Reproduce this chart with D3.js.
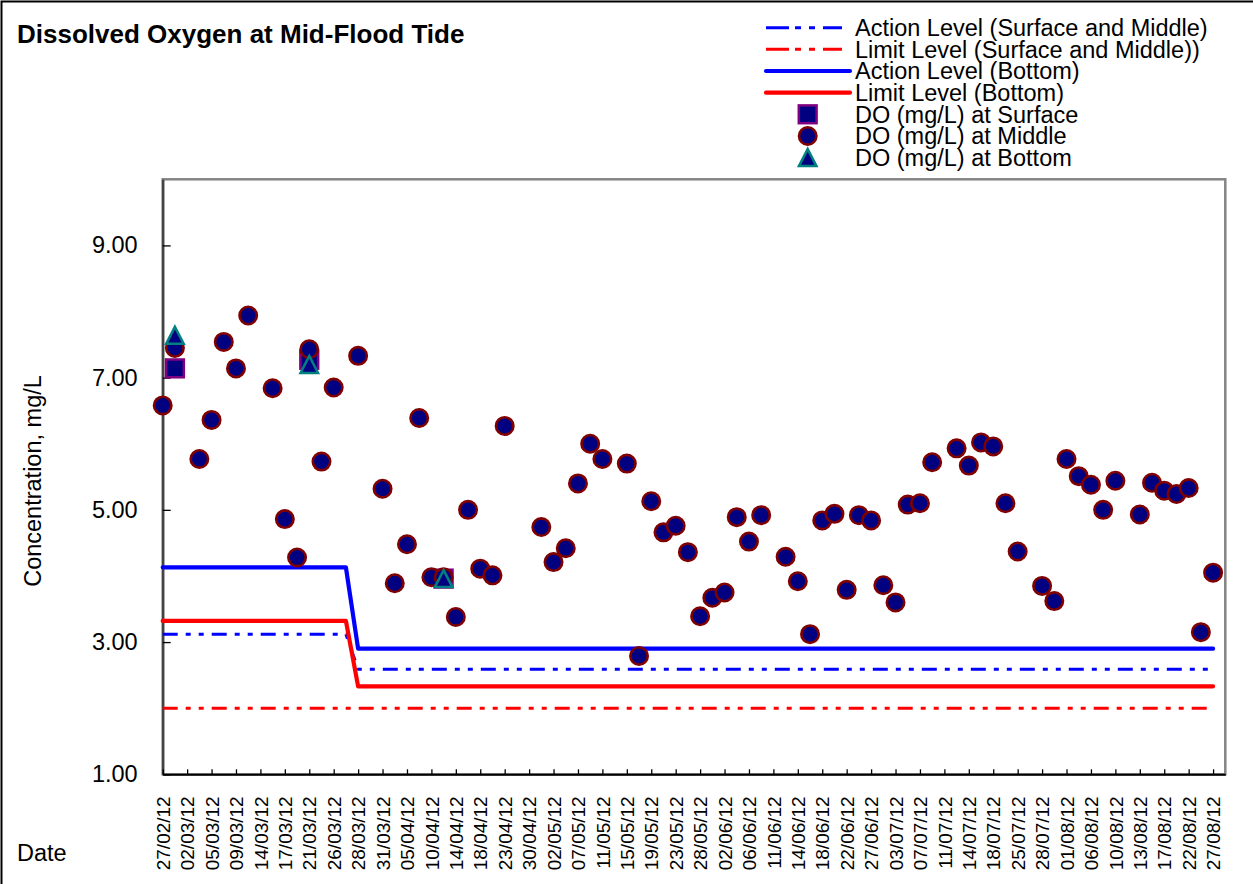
<!DOCTYPE html>
<html>
<head>
<meta charset="utf-8">
<script src="https://cdn.jsdelivr.net/npm/d3@7/dist/d3.min.js"></script>
<style>
  html, body { margin: 0; padding: 0; background: #fff; }
  svg { display: block; font-family: Arial, "Liberation Sans", sans-serif; }
</style>
</head>
<body>
<svg id="chart" width="1253" height="884"></svg>
<script>
// ---------- DATA ----------
const categories = [
  "27/02/12","29/02/12","02/03/12","03/03/12","05/03/12","07/03/12","09/03/12","12/03/12",
  "14/03/12","16/03/12","17/03/12","19/03/12","21/03/12","23/03/12","26/03/12","27/03/12",
  "28/03/12","30/03/12","31/03/12","03/04/12","05/04/12","07/04/12","10/04/12","12/04/12",
  "14/04/12","16/04/12","18/04/12","20/04/12","23/04/12","26/04/12","30/04/12","01/05/12",
  "02/05/12","04/05/12","07/05/12","09/05/12","11/05/12","14/05/12","15/05/12","17/05/12",
  "19/05/12","21/05/12","23/05/12","25/05/12","28/05/12","31/05/12","02/06/12","04/06/12",
  "06/06/12","08/06/12","11/06/12","13/06/12","14/06/12","16/06/12","18/06/12","20/06/12",
  "22/06/12","25/06/12","27/06/12","29/06/12","03/07/12","05/07/12","07/07/12","09/07/12",
  "11/07/12","13/07/12","14/07/12","16/07/12","18/07/12","20/07/12","25/07/12","27/07/12",
  "28/07/12","30/07/12","01/08/12","03/08/12","06/08/12","08/08/12","10/08/12","11/08/12",
  "13/08/12","15/08/12","17/08/12","20/08/12","22/08/12","24/08/12","27/08/12","29/08/12"
];

// tick labels shown on the x axis (every second category)
const xTickLabels = [
  "27/02/12","02/03/12","05/03/12","09/03/12","14/03/12","17/03/12","21/03/12","26/03/12",
  "28/03/12","31/03/12","05/04/12","10/04/12","14/04/12","18/04/12","23/04/12","30/04/12",
  "02/05/12","07/05/12","11/05/12","15/05/12","19/05/12","23/05/12","28/05/12","02/06/12",
  "06/06/12","11/06/12","14/06/12","18/06/12","22/06/12","27/06/12","03/07/12","07/07/12",
  "11/07/12","14/07/12","18/07/12","25/07/12","28/07/12","01/08/12","06/08/12","10/08/12",
  "13/08/12","17/08/12","22/08/12","27/08/12"
];

const yTickValues = [1, 3, 5, 7, 9];

// DO at middle depth (null = no reading)
const doMiddle = [
  6.58, 7.45, null, 5.77, 6.36, 7.54, 7.14, 7.94,
  null, 6.84, 4.86, 4.28, 7.43, 5.73, 6.85, null,
  7.33, null, 5.32, 3.89, 4.48, 6.39, 3.98, 3.98,
  3.38, 5.00, 4.11, 4.01, 6.27, null, null, 4.74,
  4.21, 4.42, 5.40, 6.00, 5.77, null, 5.70, 2.79,
  5.13, 4.66, 4.76, 4.36, 3.39, 3.67, 3.75, 4.89,
  4.52, 4.92, null, 4.29, 3.92, 3.12, 4.84, 4.94,
  3.79, 4.92, 4.84, 3.86, 3.60, 5.08, 5.10, 5.72,
  null, 5.93, 5.67, 6.02, 5.96, 5.10, 4.37, null,
  3.85, 3.62, 5.77, 5.51, 5.38, 5.00, 5.44, null,
  4.93, 5.41, 5.29, 5.24, 5.33, 3.15, 4.05, null
];

// DO at surface and bottom (only readings that differ visibly)
const surfaceDates = ["29/02/12", "21/03/12", "12/04/12"];
const doSurface    = [7.14, 7.27, 3.96];
const bottomDates  = ["29/02/12", "21/03/12", "12/04/12"];
const doBottom     = [7.64, 7.20, 3.96];

// Action / Limit levels: value before and from the change date
const levelChangeDate = "28/03/12";
const levelEndDate = "27/08/12";
const actionSurfaceMiddle = [3.12, 2.59];
const limitSurfaceMiddle  = [2.00, 2.00];
const actionBottom        = [4.13, 2.90];
const limitBottom         = [3.32, 2.33];

const legendLabels = [
  "Action Level (Surface and Middle)",
  "Limit Level (Surface and Middle))",
  "Action Level (Bottom)",
  "Limit Level (Bottom)",
  "DO (mg/L) at Surface",
  "DO (mg/L) at Middle",
  "DO (mg/L) at Bottom"
];

// ---------- CHART ----------
const svg = d3.select("#chart");
const W = 1253, H = 884;
const plot = { left: 162.7, right: 1225.3, top: 179.3, bottom: 774.3 };

const NAVY = "#000080", BLUE = "#0000ff", RED = "#ff0000";
const DASH = "15,8,5,8,5,8";

svg.append("rect").attr("width", W).attr("height", H).attr("fill", "#fff");
// outer chart frame
svg.append("rect").attr("x", 1.5).attr("y", 1.5).attr("width", W + 10).attr("height", H + 10)
  .attr("fill", "none").attr("stroke", "#000").attr("stroke-width", 2);

const x = d3.scalePoint().domain(categories).range([plot.left, plot.right]).padding(0);
const y = d3.scaleLinear().domain([1, 10]).range([plot.bottom, plot.top]);

// plot area frame
svg.append("rect")
  .attr("x", plot.left).attr("y", plot.top)
  .attr("width", plot.right - plot.left).attr("height", plot.bottom - plot.top)
  .attr("fill", "none").attr("stroke", "#858585").attr("stroke-width", 2.5);

// Title
svg.append("text").attr("x", 17).attr("y", 42.5)
  .attr("font-size", 26).attr("font-weight", "bold").attr("fill", "#000")
  .text("Dissolved Oxygen at Mid-Flood Tide");

// Y axis
const yAxis = d3.axisLeft(y).tickValues(yTickValues).tickFormat(d3.format(".2f"))
  .tickSizeInner(-8).tickSizeOuter(0).tickPadding(25);
const gy = svg.append("g").attr("transform", `translate(${plot.left},0)`).call(yAxis);
gy.select(".domain").attr("stroke", "#444").attr("stroke-width", 2.5);
gy.selectAll(".tick line").attr("stroke", "#000").attr("stroke-width", 1.3);
gy.selectAll(".tick text").attr("font-size", 23.5).attr("font-family", "Arial, 'Liberation Sans', sans-serif")
  .attr("fill", "#000");

// X axis
const xAxis = d3.axisBottom(x).tickValues(xTickLabels).tickSizeInner(-5).tickSizeOuter(0);
const gx = svg.append("g").attr("transform", `translate(0,${plot.bottom})`).call(xAxis);
gx.select(".domain").attr("stroke", "#000").attr("stroke-width", 2);
gx.selectAll(".tick line").attr("stroke", "#000").attr("stroke-width", 1.3);
gx.selectAll(".tick text")
  .attr("font-size", 19).attr("font-family", "Arial, 'Liberation Sans', sans-serif").attr("fill", "#000")
  .attr("transform", "rotate(-90)")
  .attr("x", -22).attr("y", 0).attr("dy", "0.35em")
  .style("text-anchor", "end");

// Axis titles
svg.append("text").attr("transform", `translate(41,481) rotate(-90)`)
  .attr("text-anchor", "middle").attr("font-size", 23.5).attr("fill", "#000")
  .text("Concentration, mg/L");
svg.append("text").attr("x", 17).attr("y", 861).attr("font-size", 23.5).attr("fill", "#000").text("Date");

// Level lines
const changeIdx = categories.indexOf(levelChangeDate);
const endIdx = categories.indexOf(levelEndDate);
function levelSeries(pair) {
  return categories.slice(0, endIdx + 1).map((c, i) => ({ c, v: i < changeIdx ? pair[0] : pair[1] }));
}
const line = d3.line().x(d => x(d.c)).y(d => y(d.v));
const levels = [
  { data: actionSurfaceMiddle, color: BLUE, width: 3, dash: DASH },
  { data: limitSurfaceMiddle,  color: RED,  width: 3, dash: DASH },
  { data: actionBottom,        color: BLUE, width: 4.2, dash: null },
  { data: limitBottom,         color: RED,  width: 4.2, dash: null }
];
levels.forEach(l => {
  svg.append("path").datum(levelSeries(l.data)).attr("d", line)
    .attr("fill", "none").attr("stroke", l.color).attr("stroke-width", l.width)
    .attr("stroke-dasharray", l.dash).attr("stroke-linecap", l.dash ? "butt" : "round")
    .attr("stroke-linejoin", "round");
});

// Markers
function squareMark(g, cx, cy) {
  g.append("rect").attr("x", cx - 8.9).attr("y", cy - 8.9).attr("width", 17.8).attr("height", 17.8)
    .attr("fill", NAVY).attr("stroke", "#800080").attr("stroke-width", 2.5);
}
function circleMark(g, cx, cy) {
  g.append("circle").attr("cx", cx).attr("cy", cy).attr("r", 8.7)
    .attr("fill", NAVY).attr("stroke", "#800000").attr("stroke-width", 2.6);
}
function triMark(g, cx, cy) {
  const h = 17, w = 17.5;
  g.append("path").attr("d", `M${cx},${cy - h / 2}L${cx + w / 2},${cy + h / 2}L${cx - w / 2},${cy + h / 2}Z`)
    .attr("fill", NAVY).attr("stroke", "#008080").attr("stroke-width", 2.5).attr("stroke-linejoin", "miter");
}

const gm = svg.append("g");
surfaceDates.forEach((d, i) => squareMark(gm, x(d), y(doSurface[i])));
categories.forEach((c, i) => { if (doMiddle[i] != null) circleMark(gm, x(c), y(doMiddle[i])); });
bottomDates.forEach((d, i) => triMark(gm, x(d), y(doBottom[i])));

// Legend
const lg = svg.append("g");
const legX0 = 766, legX1 = 842, legMark = 807.7, legText = 855;
legendLabels.forEach((lab, i) => {
  const cy = 27.7 + i * 21.65;
  if (i < 4) {
    const dashed = i < 2;
    lg.append("line").attr("x1", legX0).attr("x2", dashed ? legX1 : 850).attr("y1", cy).attr("y2", cy)
      .attr("stroke", i % 2 === 0 ? BLUE : RED).attr("stroke-width", dashed ? 3 : 4.2)
      .attr("stroke-dasharray", dashed ? "23,6,6,8,6,8" : null)
      .attr("stroke-linecap", dashed ? "butt" : "round");
  } else if (i === 4) squareMark(lg, legMark, cy);
  else if (i === 5) circleMark(lg, legMark, cy);
  else triMark(lg, legMark, cy);
  lg.append("text").attr("x", legText).attr("y", cy + 8.3).attr("font-size", 23.5).attr("fill", "#000").text(lab);
});
</script>
</body>
</html>
